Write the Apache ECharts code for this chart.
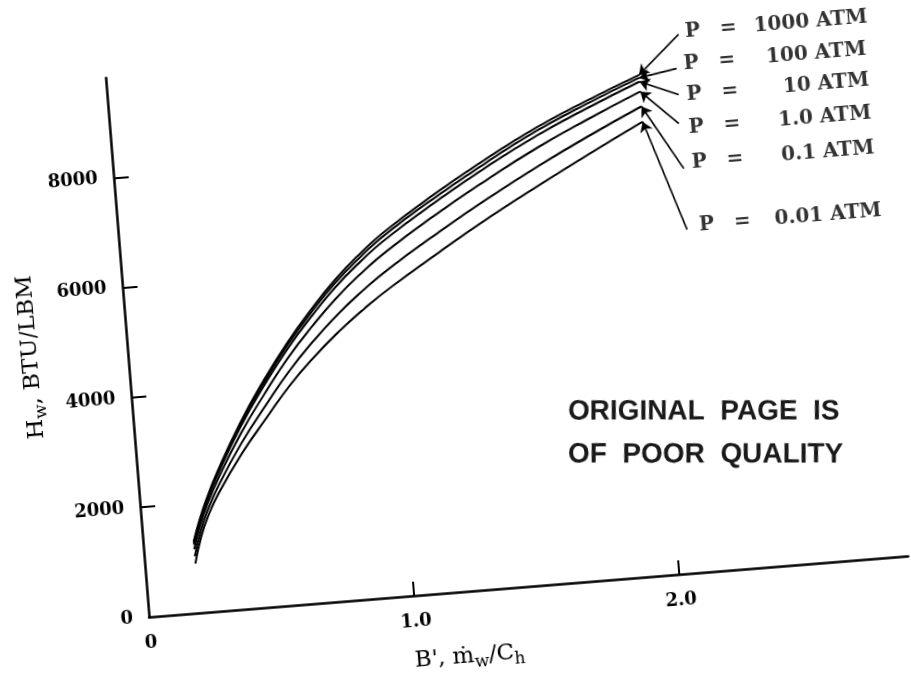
<!DOCTYPE html>
<html><head><meta charset="utf-8">
<script src="https://cdn.jsdelivr.net/npm/echarts@6/dist/echarts.min.js"></script>
<style>
html,body{margin:0;padding:0;background:#fff;overflow:hidden;width:911px;height:679px;}
#chart{width:1000px;height:760px;transform-origin:149px 617px;transform:rotate(-4.6deg);}
</style></head><body><div id="chart"></div>
<script>
// ---- data ----
const bValues = [0.19, 0.22, 0.25, 0.3, 0.4, 0.5, 0.6, 0.7, 0.8, 0.9, 1.0, 1.2, 1.4, 1.6, 1.8, 2.0];
const hw1000 = [1300, 1700, 2040, 2530, 3380, 4110, 4760, 5330, 5840, 6270, 6640, 7250, 7800, 8300, 8720, 9100];
const hw100  = [1275, 1680, 2020, 2505, 3350, 4070, 4715, 5280, 5785, 6210, 6580, 7185, 7735, 8240, 8665, 9050];
const hw10   = [1245, 1655, 1995, 2475, 3305, 4015, 4655, 5210, 5710, 6130, 6495, 7100, 7655, 8155, 8585, 8980];
const hw1    = [1160, 1590, 1930, 2395, 3190, 3870, 4495, 5030, 5510, 5920, 6275, 6880, 7430, 7940, 8385, 8800];
const hw01   = [1030, 1485, 1825, 2275, 3020, 3655, 4250, 4760, 5210, 5600, 5945, 6540, 7095, 7610, 8085, 8530];
const hw001  = [900, 1380, 1720, 2150, 2840, 3430, 4000, 4480, 4900, 5270, 5600, 6190, 6750, 7270, 7770, 8250];
const pressureLabels = ['1000', '100', '10', '1.0', '0.1', '0.01'];
const xTicks = [0, 1, 2];
const yTicks = [0, 2000, 4000, 6000, 8000];
const xMax = 2.864, yMax = 9824;
// annotation anchors (data units)
const labelB = [2.186, 2.171, 2.173, 2.171, 2.172, 2.180];
const labelH = [9820, 9225, 8678, 8077, 7439, 6288];
const arrowB = [2.161, 2.143, 2.143, 2.135, 2.140, 2.134];
const arrowH = [9780, 9164, 8690, 8165, 7342, 6233];

// ---- layout ----
const OX = 149, OY = 617, pxPerB = 265.9, pxPerH = 0.05504;
const series = [hw1000, hw100, hw10, hw1, hw01, hw001];
const serif = '"DejaVu Serif", serif';

const chart = echarts.init(document.getElementById('chart'), null, {renderer: 'canvas'});
const fullH = OY / pxPerH;
const opt = {
  animation: false,
  backgroundColor: 'transparent',
  grid: [
    {left: OX, top: OY - yMax * pxPerH, width: xMax * pxPerB, height: yMax * pxPerH, outerBoundsMode: 'none', containLabel: false},
    {left: OX, top: 0, width: xMax * pxPerB, height: OY, outerBoundsMode: 'none', containLabel: false}
  ],
  xAxis: [{
    type: 'value', min: 0, max: xMax, gridIndex: 0,
    axisLine: {lineStyle: {color: '#000', width: 2.5}},
    axisTick: {inside: true, length: 14, customValues: xTicks.slice(1), lineStyle: {color: '#000', width: 2}},
    axisLabel: {customValues: xTicks, margin: 17, color: '#000', fontFamily: serif, fontWeight: 'bold', fontSize: 18,
      formatter: v => v === 0 ? '0' : v.toFixed(1)},
    splitLine: {show: false},
    name: "{a|B', ṁ}{s|w}{a|/C}{s|h}", nameLocation: 'middle', nameGap: 50,
    nameTextStyle: {padding: [0, 128, 0, 0], rich: {
      a: {fontFamily: serif, fontSize: 23, lineHeight: 30, color: '#000'},
      s: {fontFamily: serif, fontSize: 17, lineHeight: 15, verticalAlign: 'bottom', color: '#000'}}}
  }, {
    type: 'value', min: 0, max: xMax, gridIndex: 1, show: false
  }],
  yAxis: [{
    type: 'value', min: 0, max: yMax, gridIndex: 0,
    axisLine: {lineStyle: {color: '#000', width: 2.5}},
    axisTick: {inside: true, length: 15, customValues: yTicks.slice(1), lineStyle: {color: '#000', width: 2}},
    axisLabel: {customValues: yTicks, margin: 16, color: '#000', fontFamily: serif, fontWeight: 'bold', fontSize: 18,
      formatter: v => String(v)},
    splitLine: {show: false},
    name: '{a|H}{s|w}{a|, BTU/LBM}', nameLocation: 'middle', nameGap: 82,
    nameTextStyle: {padding: [0, 4, 0, 0], rich: {
      a: {fontFamily: serif, fontSize: 23, lineHeight: 30, color: '#000'},
      s: {fontFamily: serif, fontSize: 17, lineHeight: 15, verticalAlign: 'bottom', color: '#000'}}}
  }, {
    type: 'value', min: 0, max: fullH, gridIndex: 1, show: false
  }],
  graphic: [{
    type: 'group', x: 583, y: 446, rotation: -0.0803,
    children: [
      {type: 'text', x: 0, y: 0, style: {text: 'ORIGINAL  PAGE  IS', font: 'bold 28px "Liberation Sans"', fill: '#1a1a1a', verticalAlign: 'middle'}},
      {type: 'text', x: 0, y: 43, style: {text: 'OF  POOR  QUALITY', font: 'bold 28px "Liberation Sans"', fill: '#1a1a1a', verticalAlign: 'middle'}}
    ]
  }],
  series: []
};
series.forEach((arr, i) => {
  opt.series.push({
    type: 'line', name: 'P = ' + pressureLabels[i] + ' ATM', xAxisIndex: 0, yAxisIndex: 0,
    data: bValues.map((b, k) => [b, arr[k]]),
    smooth: 0.5, showSymbol: false, clip: false,
    lineStyle: {color: '#000', width: 2}
  });
});
const last = bValues.length - 1;
opt.series.push({
  type: 'scatter', xAxisIndex: 1, yAxisIndex: 1, symbolSize: 0, clip: false,
  data: labelB.map((b, i) => [b, labelH[i]]),
  label: {show: true, position: 'right', distance: 0,
    formatter: p => '{p|P}{e|=}{v|' + pressureLabels[p.dataIndex] + ' ATM}',
    rich: {
      p: {width: 35, fontFamily: serif, fontWeight: 'bold', fontSize: 20, color: '#000'},
      e: {width: 20, fontFamily: serif, fontWeight: 'bold', fontSize: 20, color: '#000'},
      v: {width: 128, align: 'right', fontFamily: serif, fontWeight: 'bold', fontSize: 20, color: '#000'}
    }},
  markLine: {
    silent: true, symbol: ['none', 'arrow'], symbolSize: 10,
    label: {show: false},
    lineStyle: {color: '#000', width: 1.6, type: 'solid'},
    data: series.map((arr, i) => [{coord: [arrowB[i], arrowH[i]]}, {coord: [bValues[last], arr[last]]}])
  }
});
chart.setOption(opt);
</script></body></html>
